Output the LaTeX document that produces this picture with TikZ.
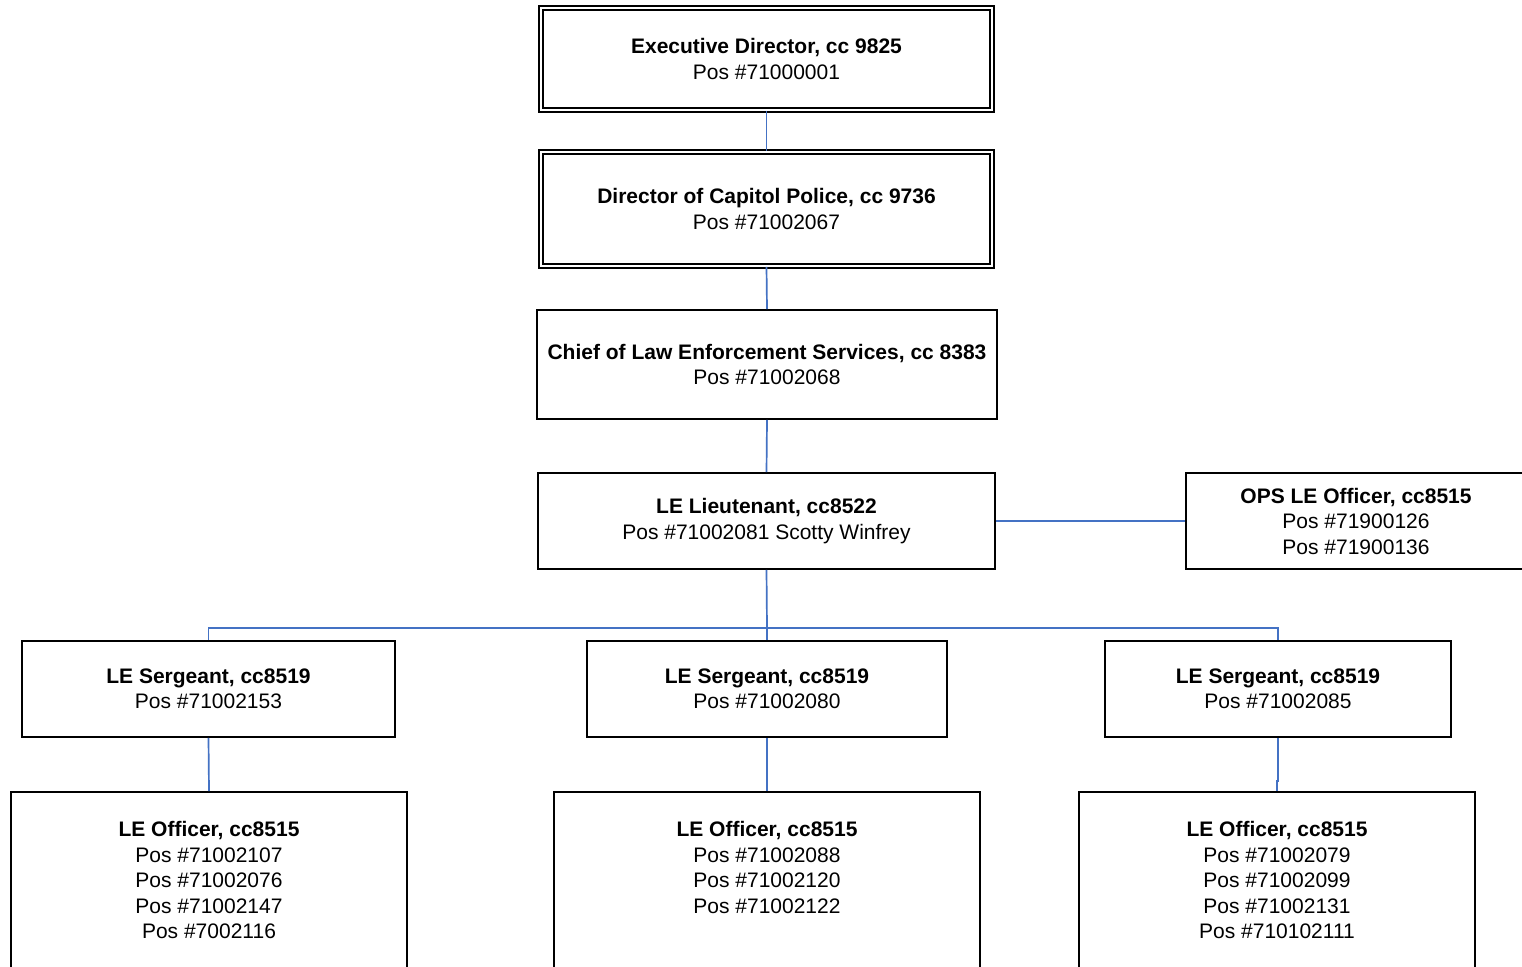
\documentclass[tikz,border=0pt]{standalone}
\usepackage{fontspec}
\setmainfont{Liberation Sans}
\definecolor{linkblue}{RGB}{68,114,196}
\begin{document}
\begin{tikzpicture}[x=1pt,y=-1pt,
  every node/.style={font=\fontsize{21}{25.5}\selectfont, align=center, inner sep=0pt},
  posbox/.style={draw=black, line width=1.8pt, rectangle},
  dblbox/.style={draw=black, line width=1.6pt, double=white, double distance=2.6pt, rectangle},
  link/.style={draw=linkblue, line width=1.7pt}]
\useasboundingbox (0,0) rectangle (1522,966);
\clip (0,0) rectangle (1522,966);
\fill[white] (0,0) rectangle (1522,966);

% executive level (double framed)
\node[dblbox, minimum width=451pt, minimum height=102pt] (exec) at (766.5,59)
  {\textbf{Executive Director, cc 9825}\\Pos \#71000001};
\node[dblbox, minimum width=451pt, minimum height=114pt] (dir) at (766.5,209)
  {\textbf{Director of Capitol Police, cc 9736}\\Pos \#71002067};

% chief and lieutenant
\node[posbox, minimum width=460pt, minimum height=109pt] (chief) at (767,364.5)
  {\textbf{Chief of Law Enforcement Services, cc 8383}\\Pos \#71002068};
\node[posbox, minimum width=457pt, minimum height=96pt] (lt) at (766.5,521)
  {\textbf{LE Lieutenant, cc8522}\\Pos \#71002081 Scotty Winfrey};
\node[posbox, minimum width=340pt, minimum height=96pt] (ops) at (1356,521)
  {\textbf{OPS LE Officer, cc8515}\\Pos \#71900126\\Pos \#71900136};

% sergeants
\node[posbox, minimum width=373pt, minimum height=96pt] (sgtA) at (208.5,689)
  {\textbf{LE Sergeant, cc8519}\\Pos \#71002153};
\node[posbox, minimum width=360pt, minimum height=96pt] (sgtB) at (767,689)
  {\textbf{LE Sergeant, cc8519}\\Pos \#71002080};
\node[posbox, minimum width=346pt, minimum height=96pt] (sgtC) at (1278,689)
  {\textbf{LE Sergeant, cc8519}\\Pos \#71002085};

% officer groups (frames run past the lower edge)
\node[posbox, minimum width=396pt, minimum height=248pt] (offA) at (209,916) {};
\node[posbox, minimum width=426pt, minimum height=248pt] (offB) at (767,916) {};
\node[posbox, minimum width=396pt, minimum height=248pt] (offC) at (1277,916) {};
\node[anchor=north] (offAtxt) at ([yshift=-30pt]offA.north)
  {\textbf{LE Officer, cc8515}\\Pos \#71002107\\Pos \#71002076\\Pos \#71002147\\Pos \#7002116};
\node[anchor=north] (offBtxt) at ([yshift=-30pt]offB.north)
  {\textbf{LE Officer, cc8515}\\Pos \#71002088\\Pos \#71002120\\Pos \#71002122};
\node[anchor=north] (offCtxt) at ([yshift=-30pt]offC.north)
  {\textbf{LE Officer, cc8515}\\Pos \#71002079\\Pos \#71002099\\Pos \#71002131\\Pos \#710102111};

% reporting lines
\coordinate (bus) at (767,628);
\path[link] (exec.south) -- (dir.north);
\path[link] (dir.south) -- (chief.north);
\path[link] (chief.south) -- (lt.north);
\path[link] (lt.east) -- (ops.west);
\path[link] (lt.south) -- (bus);
\path[link] (sgtA.north) |- (bus) -| (sgtC.north);
\path[link] (bus) -- (sgtB.north);
\path[link] (sgtA.south) -- (offA.north);
\path[link] (sgtB.south) -- (offB.north);
\path[link] (sgtC.south) -- ++(0,43) -- ++(-1,0) |- (offC.north);
\end{tikzpicture}
\end{document}
